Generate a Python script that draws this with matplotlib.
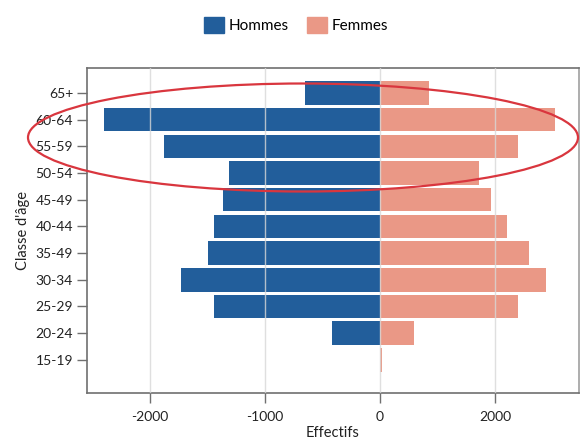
import matplotlib
matplotlib.use("Agg")
import matplotlib.pyplot as plt
from matplotlib.patches import Ellipse, Patch
import numpy as np

plt.rcParams['font.family'] = ['Lato', 'DejaVu Sans']

categories = ["15-19", "20-24", "25-29", "30-34", "35-49", "40-44",
              "45-49", "50-54", "55-59", "60-64", "65+"]
hommes = [0, -417, -1439, -1733, -1496, -1443, -1365, -1313, -1878, -2400, -652]
femmes = [38, 600, 2393, 2883, 2591, 2209, 1930, 1722, 2400, 3043, 852]
xticks = [-2000, -1000, 0, 2000]

blue = "#225E9B"
salmon = "#EA9886"

def fwd(x):
    x = np.asarray(x, dtype=float)
    return np.where(x < 0, x, x / 2.0)

def inv(y):
    y = np.asarray(y, dtype=float)
    return np.where(y < 0, y, y * 2.0)

fig = plt.figure(figsize=(5.8, 4.41), dpi=100)
ax = fig.add_axes([0.150, 0.109, 0.848, 0.737])
ax.set_xscale('function', functions=(fwd, inv))

y = np.arange(len(categories))
ax.barh(y, hommes, height=0.88, color=blue, zorder=2)
ax.barh(y, femmes, height=0.88, color=salmon, zorder=2)

ax.set_xlim(-2546, 3457)
ax.set_ylim(-1.24, 10.94)
ax.set_xticks(xticks)
ax.set_xticklabels([str(v) for v in xticks])
ax.set_yticks(y)
ax.set_yticklabels(categories)

for v in xticks:
    ax.axvline(v, color="#d8d8d8", lw=1.0, zorder=3, alpha=0.8)

for s in ax.spines.values():
    s.set_color("#707070")
    s.set_linewidth(1.2)
ax.spines['right'].set_color("#a0a0a0")

ax.tick_params(axis='both', colors="#707070", labelcolor="#222222",
               labelsize=10, length=7, width=1)
ax.tick_params(axis='x', pad=6)
ax.tick_params(axis='y', pad=3)

ax.set_xlabel("Effectifs", fontsize=10.5, color="#222222", labelpad=2)
ax.set_ylabel("Classe d'âge", fontsize=10.5, color="#222222", labelpad=4)

handles = [Patch(color=blue, label="Hommes"), Patch(color=salmon, label="Femmes")]
fig.legend(handles=handles, loc='center', bbox_to_anchor=(0.51, 0.943), ncol=2,
           frameon=False, fontsize=11, handlelength=1.3, handleheight=1.3,
           handletextpad=0.3, columnspacing=1.2)

ell = Ellipse((303 / 580, 1 - 137.5 / 441), 550 / 580, 108 / 441,
              transform=fig.transFigure, fill=False, edgecolor="#D9363E",
              lw=1.6, zorder=10)
fig.patches.append(ell)

fig.savefig("out.png", dpi=100)
